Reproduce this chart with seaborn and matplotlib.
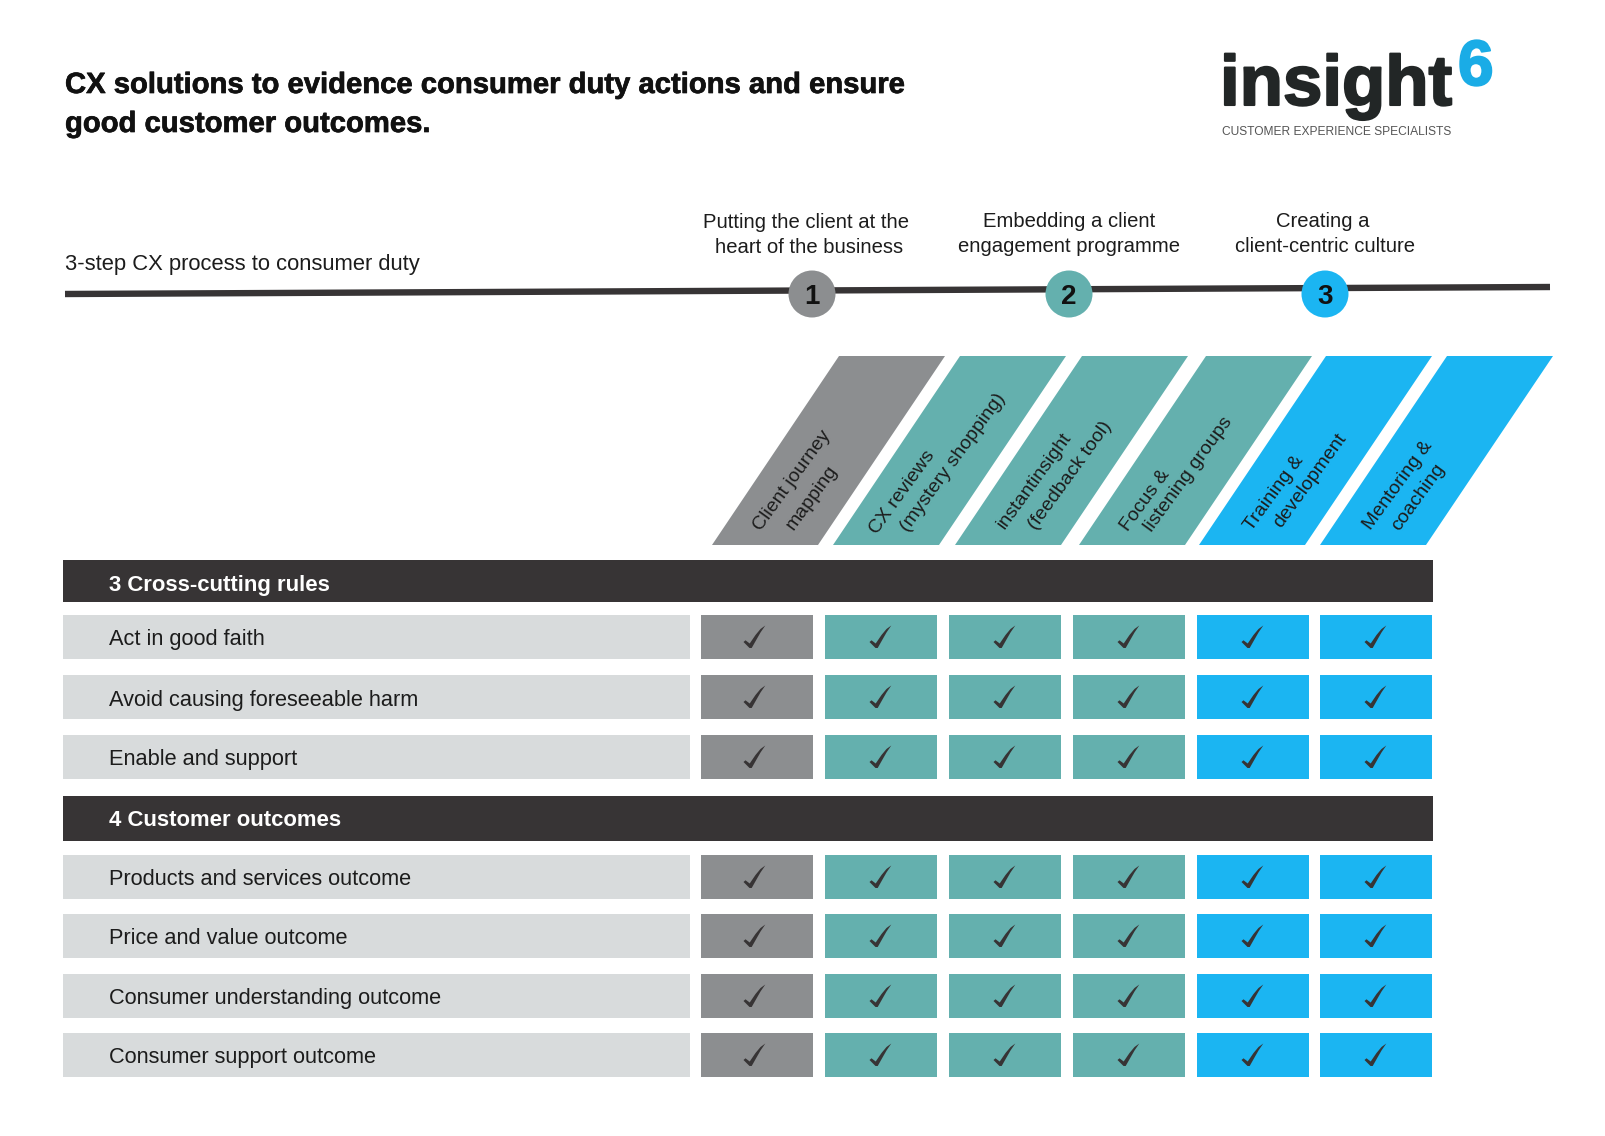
import matplotlib
matplotlib.use("Agg")
import matplotlib.pyplot as plt
import matplotlib.patheffects as pe
from matplotlib.patches import Polygon, Rectangle
from matplotlib.path import Path
from matplotlib.markers import MarkerStyle
import numpy as np
import pandas as pd
import seaborn as sns

# ---- data ----
title_lines = ["CX solutions to evidence consumer duty actions and ensure",
               "good customer outcomes."]
process_label = "3-step CX process to consumer duty"
step_numbers = ["1", "2", "3"]
step_captions = [["Putting the client at the", "heart of the business"],
                 ["Embedding a client", "engagement programme"],
                 ["Creating a", "client-centric culture"]]
solutions = [["Client journey", "mapping"],
             ["CX reviews", "(mystery shopping)"],
             ["instantinsight", "(feedback tool)"],
             ["Focus &", "listening groups"],
             ["Training &", "development"],
             ["Mentoring &", "coaching"]]
solution_step = [0, 1, 1, 1, 2, 2]
section_titles = ["3 Cross-cutting rules", "4 Customer outcomes"]
rules = ["Act in good faith", "Avoid causing foreseeable harm", "Enable and support"]
outcomes = ["Products and services outcome", "Price and value outcome",
            "Consumer understanding outcome", "Consumer support outcome"]
row_labels = rules + outcomes
ticks = [[1, 1, 1, 1, 1, 1],
         [1, 1, 1, 1, 1, 1],
         [1, 1, 1, 1, 1, 1],
         [1, 1, 1, 1, 1, 1],
         [1, 1, 1, 1, 1, 1],
         [1, 1, 1, 1, 1, 1],
         [1, 1, 1, 1, 1, 1]]

# ---- styles and layout (pixels) ----
GREY, TEAL, BLUE = "#8c8e90", "#64b0ae", "#1bb5f2"
DARK, LIGHT, INK = "#373435", "#d8dbdc", "#1c1c1c"
step_colors = [GREY, TEAL, BLUE]
W, H = 1606, 1136
LEFT, LABEL_R, RIGHT = 63, 690, 1433
cell_left = [701, 825, 949, 1073, 1197, 1320]
CELL_W, ROW_H = 112, 44
row_top = [615, 675, 735, 855, 914, 974, 1033]
row_base = [645, 706, 765, 885, 944, 1004, 1063]
section_box = [(560, 602, 591), (796, 841, 826)]
step_x = [812, 1069, 1325]
caption_x = [[806, 809], [1069.5, 1069], [1322.5, 1325]]
caption_base = [[228, 253], [227, 252], [227, 252]]
para_bottom_left = [712, 833, 955, 1079, 1199, 1320]
PARA_W, PARA_SHIFT, PARA_TOP, PARA_BOT = 106, 127, 356, 545
label_xy = [[(792, 481), (812, 498)], [(902, 492), (953, 463)],
            [(1035, 481), (1070, 476)], [(1145, 500), (1189, 474)],
            [(1274, 493), (1310, 481)], [(1398, 485), (1418, 497)]]

sns.set_theme(style="white")
plt.rcParams["font.family"] = ["Liberation Sans", "DejaVu Sans"]

fig = plt.figure(figsize=(W / 100, H / 100), dpi=100, facecolor="white")
ax = fig.add_axes([0, 0, 1, 1])
ax.set_xlim(0, W)
ax.set_ylim(H, 0)
ax.axis("off")

# title
for line, y in zip(title_lines, [93, 132]):
    ax.text(65, y, line, fontsize=21.05, fontweight="bold", color="#111111", va="baseline",
            path_effects=[pe.withStroke(linewidth=0.5, foreground="#111111")])

# logo
ax.text(1220, 105, "insight", fontsize=51, fontweight="bold", color="#222626", va="baseline",
        path_effects=[pe.withStroke(linewidth=1.5, foreground="#222626")])
ax.text(1458, 85, "6", fontsize=46, fontweight="bold", color="#1aace6", va="baseline",
        path_effects=[pe.withStroke(linewidth=1.5, foreground="#1aace6")])
ax.text(1222, 135, "CUSTOMER EXPERIENCE SPECIALISTS", fontsize=8.65, color="#555555", va="baseline")

# process line and steps
ax.text(65, 270, process_label, fontsize=15.8, color=INK, va="baseline")
line_df = pd.DataFrame({"x": [65, 1550], "y": [294, 287]})
sns.lineplot(data=line_df, x="x", y="y", color=DARK, linewidth=4.6, ax=ax, legend=False, zorder=2,
             solid_capstyle="butt")
step_df = pd.DataFrame({"x": step_x, "y": [294] * 3, "step": step_numbers})
sns.scatterplot(data=step_df, x="x", y="y", hue="step", palette=step_colors, s=1145, linewidth=0,
                ax=ax, legend=False, zorder=3)
for i, num in enumerate(step_numbers):
    ax.text(step_x[i], 304, num, fontsize=20, fontweight="bold", color="#111111",
            ha="center", va="baseline", zorder=4)
    for j, line in enumerate(step_captions[i]):
        ax.text(caption_x[i][j], caption_base[i][j], line, fontsize=14.6, color=INK,
                ha="center", va="baseline")

# slanted column headers
for c, lines in enumerate(solutions):
    x0 = para_bottom_left[c]
    color = step_colors[solution_step[c]]
    ax.add_patch(Polygon([(x0, PARA_BOT), (x0 + PARA_W, PARA_BOT),
                          (x0 + PARA_W + PARA_SHIFT, PARA_TOP), (x0 + PARA_SHIFT, PARA_TOP)],
                         closed=True, fc=color, ec="none", zorder=1))
    for line, (tx, ty) in zip(lines, label_xy[c]):
        ax.text(tx, ty, line, fontsize=14.0, color=INK, rotation=54, rotation_mode="anchor",
                ha="center", va="center", zorder=2)

# section bars
for name, (top, bottom, base) in zip(section_titles, section_box):
    ax.add_patch(Rectangle((LEFT, top), RIGHT - LEFT, bottom - top, fc=DARK, ec="none"))
    ax.text(109, base, name, fontsize=15.9, fontweight="bold", color="white", va="baseline")

# rows and cells
for r, label in enumerate(row_labels):
    top = row_top[r]
    ax.add_patch(Rectangle((LEFT, top), LABEL_R - LEFT, ROW_H, fc=LIGHT, ec="none"))
    ax.text(109, row_base[r], label, fontsize=15.7, color=INK, va="baseline")
    for c in range(len(solutions)):
        ax.add_patch(Rectangle((cell_left[c], top), CELL_W, ROW_H,
                               fc=step_colors[solution_step[c]], ec="none", zorder=1))

# tick marks
check = Path([(-11, -4.5), (-9, -2.8), (-4.8, -6), (1, 2.5), (6, 8.5), (10.8, 12),
              (6, 5), (2, -2), (-2.8, -10.5), (-5, -10.5), (-11, -4.5)], closed=True)
rows_long = []
for r, values in enumerate(ticks):
    for c, v in enumerate(values):
        if v:
            rows_long.append({"x": cell_left[c] + CELL_W / 2 - (3 if c == 0 else 1),
                              "y": row_top[r] + ROW_H / 2})
tick_df = pd.DataFrame(rows_long)
sns.scatterplot(data=tick_df, x="x", y="y", marker=MarkerStyle(check), s=(24 * 0.72) ** 2,
                color=DARK, linewidth=0, ax=ax, legend=False, zorder=3)

ax.set_xlim(0, W)
ax.set_ylim(H, 0)
ax.set_xlabel("")
ax.set_ylabel("")
fig.savefig("out.png", dpi=100, facecolor="white")
